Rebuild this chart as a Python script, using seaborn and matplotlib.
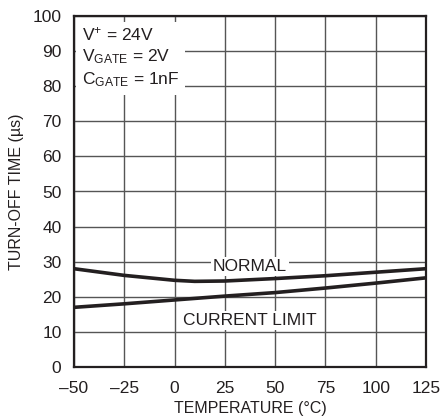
import matplotlib
matplotlib.use("Agg")
import matplotlib.pyplot as plt
import seaborn as sns
import pandas as pd

temp = [-50, -25, 0, 10, 25, 50, 75, 100, 125]
normal = [28.0, 26.1, 24.7, 24.4, 24.5, 25.2, 26.0, 27.0, 28.0]
temp_cl = [-50, -25, 0, 25, 50, 75, 100, 125]
current_limit = [17.0, 18.0, 19.1, 20.2, 21.2, 22.5, 23.9, 25.4]
xticks = [-50, -25, 0, 25, 50, 75, 100, 125]
xticklabels = ["–50", "–25", "0", "25", "50", "75", "100", "125"]
yticks = [0, 10, 20, 30, 40, 50, 60, 70, 80, 90, 100]

sns.set_style("white")
plt.rcParams['font.family'] = ['Liberation Sans', 'DejaVu Sans']
plt.rcParams['mathtext.fontset'] = 'custom'
plt.rcParams['mathtext.rm'] = 'Liberation Sans'
plt.rcParams['mathtext.it'] = 'Liberation Sans'

fig = plt.figure(figsize=(4.41, 4.19), dpi=100)
ax = fig.add_axes([74/441, 1-367/419, (426-74)/441, (367-16)/419])

df_n = pd.DataFrame({"T": temp, "t": normal})
df_c = pd.DataFrame({"T": temp_cl, "t": current_limit})
sns.lineplot(data=df_n, x="T", y="t", ax=ax, color="#231f20", linewidth=2.6, zorder=5)
sns.lineplot(data=df_c, x="T", y="t", ax=ax, color="#231f20", linewidth=2.6, zorder=5)

ax.set_xlim(-50, 125)
ax.set_ylim(0, 100)
ax.set_xticks(xticks)
ax.set_xticklabels(xticklabels)
ax.set_yticks(yticks)
ax.grid(True, color="#555555", linewidth=1.0)
ax.set_axisbelow(True)
for s in ax.spines.values():
    s.set_color("#231f20")
    s.set_linewidth(1.6)
ax.tick_params(axis="both", labelsize=12.5, length=0, colors="#231f20")
ax.tick_params(axis="x", pad=10)
ax.tick_params(axis="y", pad=9)
ax.set_xlabel("TEMPERATURE (°C)", fontsize=11.5, color="#231f20", labelpad=4)
ax.set_ylabel("TURN-OFF TIME (µs)", fontsize=11.5, color="#231f20", labelpad=6)

ax.text(37.5, 28.6, "NORMAL", fontsize=12.5, ha="center", va="center", color="#231f20",
        bbox=dict(facecolor="white", edgecolor="none", pad=1.5), zorder=6)
ax.text(37.5, 13.3, "CURRENT LIMIT", fontsize=12.5, ha="center", va="center", color="#231f20",
        bbox=dict(facecolor="white", edgecolor="none", pad=1.5), zorder=6)

ax.text(-46.0, 97.3, "$\\mathregular{V^{+}}$ = 24V\n$\\mathregular{V_{GATE}}$ = 2V\n$\\mathregular{C_{GATE}}$ = 1nF",
        fontsize=12.5, ha="left", va="top", color="#231f20", linespacing=1.3,
        bbox=dict(facecolor="white", edgecolor="none", pad=4), zorder=6)

fig.savefig("out.png", dpi=100)
